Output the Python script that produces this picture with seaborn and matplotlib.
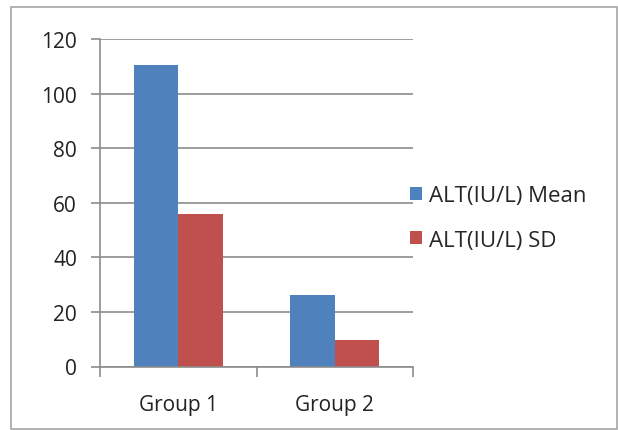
import matplotlib
matplotlib.use("Agg")
import matplotlib.pyplot as plt
import seaborn as sns
import pandas as pd
from matplotlib.patches import Patch, Rectangle

groups = ["Group 1", "Group 2"]
series = ["ALT(IU/L) Mean", "ALT(IU/L) SD"]
mean_values = [110.5, 26.3]
sd_values = [56.0, 9.8]
y_ticks = [0, 20, 40, 60, 80, 100, 120]
colors = ["#4F81BD", "#C0504D"]

df = pd.DataFrame({
    "group": groups * 2,
    "series": [series[0]] * len(groups) + [series[1]] * len(groups),
    "value": mean_values + sd_values,
})

sns.set_theme(style="white")
plt.rcParams["font.family"] = ["Open Sans", "DejaVu Sans"]
fs = 15

fig = plt.figure(figsize=(6.18, 4.31), dpi=100)
ax = fig.add_axes([100 / 618, 1 - 367.5 / 431, 313 / 618, 327.5 / 431])

sns.barplot(data=df, x="group", y="value", hue="series", palette=colors,
            width=0.57, ax=ax, legend=False, saturation=1, edgecolor="none")

ax.set_ylim(0, 120)
ax.set_xlim(-0.5, 1.5)
ax.set_yticks(y_ticks)
ax.set_yticklabels([str(t) for t in y_ticks], fontsize=fs, color="#222222")
ax.set_xticks([-0.5, 0.5, 1.5], minor=False)
ax.set_xticklabels([])
ax.set_xticks([0, 1], minor=True)
ax.set_xticklabels(groups, minor=True, fontsize=fs, color="#222222")
ax.tick_params(axis="x", which="minor", length=0, pad=20)
ax.tick_params(axis="x", which="major", length=7, width=1.2, color="#8c8c8c", direction="out", bottom=True)
ax.tick_params(axis="y", length=6.5, width=1.2, color="#8c8c8c", direction="out", left=True, pad=10)
ax.set_xlabel("")
ax.set_ylabel("")

ax.grid(axis="y", color="#8c8c8c", linewidth=1.2)
ax.set_axisbelow(True)
for side in ["top", "right"]:
    ax.spines[side].set_visible(False)
for side in ["left", "bottom"]:
    ax.spines[side].set_color("#8c8c8c")
    ax.spines[side].set_linewidth(1.2)

handles = [Patch(facecolor=c, edgecolor="none") for c in colors]
fig.legend(handles, series, loc="center left", bbox_to_anchor=(410 / 618, 1 - 219 / 431),
           frameon=False, fontsize=16, handlelength=0.55, handleheight=0.55,
           handletextpad=0.3, labelspacing=1.05, borderpad=0, borderaxespad=0)

fig.patches.append(Rectangle((11 / 618, 1 - 429.5 / 431), 605.5 / 618, 422 / 431,
                             transform=fig.transFigure, fill=False,
                             edgecolor="#a6a6a6", linewidth=1.2))

fig.savefig("out.png", dpi=100, facecolor="white")
